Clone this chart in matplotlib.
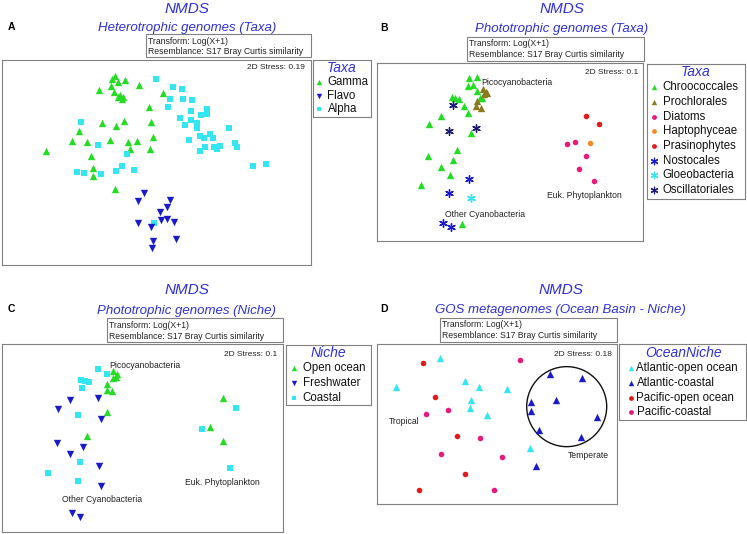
import matplotlib
matplotlib.use("Agg")
import matplotlib.pyplot as plt
from matplotlib.patches import Rectangle, Ellipse

plt.rcParams['font.family'] = ['Liberation Sans', 'DejaVu Sans']

# ---------------- data (NMDS ordination coordinates, arbitrary units) ----------------
# Panel A: heterotrophic genomes
A_gamma_x = [345,337,375,355,332,296,418,343,490,360,370,355,367,447,305,373,347,452,238,215,260,330,383,410,460,449,390,138,272,280,280,345]
A_gamma_y = [228,237,240,245,257,270,256,275,278,285,290,292,296,322,370,362,378,366,392,422,427,421,427,422,411,447,448,452,469,505,528,566]
A_flavo_x = [432,415,510,502,480,415,483,502,521,452,528,460,456]
A_flavo_y = [580,602,600,622,636,668,660,657,666,680,717,722,743]
A_alpha_x = [468,519,547,510,548,575,505,573,621,602,622,541,574,590,556,590,686,600,631,612,640,566,704,712,614,600,643,660,650,244,295,382,365,402,347,231,251,302,760,797,462]
A_alpha_y = [237,260,268,296,296,301,320,333,327,345,343,353,360,368,375,383,383,408,403,415,415,419,430,440,441,452,442,439,448,365,435,463,498,510,514,517,520,522,498,493,670]

# Panel B: phototrophic genomes (taxa)
B_chroo_x = [298,322,295,310,320,245,256,268,283,295,212,178,303,262,175,250,214,241,152,276,330,337]
B_chroo_y = [233,232,258,256,272,291,293,296,318,340,348,373,400,450,468,480,500,525,555,672,295,293]
B_prochl_x = [338,347,342,322,318,334,352]
B_prochl_y = [268,276,283,303,318,323,278]
B_diatom_x = [590,614,649,628,672]
B_diatom_y = [432,427,467,506,543]
B_hapto_x = [660]
B_hapto_y = [430]
B_prasino_x = [648,688]
B_prasino_y = [347,372]
B_nosto_x = [297,237,220,242]
B_nosto_y = [537,578,670,680]
B_gloeo_x = [302]
B_gloeo_y = [593]
B_oscill_x = [248,237,318]
B_oscill_y = [315,393,385]

# Panel C: phototrophic genomes (niche)
C_open_x = [340,352,340,348,322,320,337,320,260,668,630,669]
C_open_y = [318,328,338,335,358,375,378,440,512,400,487,528]
C_fresh_x = [210,295,173,303,170,249,211,298,303,216,240]
C_fresh_y = [405,400,433,462,535,547,568,603,663,745,755]
C_coast_x = [295,322,243,255,267,246,235,239,145,234,709,605,691]
C_coast_y = [313,328,345,347,352,368,450,592,624,647,430,492,608]

# Panel D: GOS metagenomes
D_atl_open_x = [210,285,326,412,78,304,299,352,480]
D_atl_open_y = [278,348,366,371,367,404,430,450,548]
D_atl_coast_x = [541,637,557,483,484,680,507,634,497]
D_atl_coast_y = [326,338,405,411,438,455,496,516,602]
D_pac_open_x = [160,195,262,285,148]
D_pac_open_y = [293,396,514,627,676]
D_pac_coast_x = [450,234,167,331,212,396,372]
D_pac_coast_y = [285,436,448,519,568,577,676]
D_circle_center = (590, 425)
D_circle_diam = 240

stress = {'A': '0.19', 'B': '0.1', 'C': '0.1', 'D': '0.18'}

# ---------------- style ----------------
GREEN = '#22dd22'
BLUE = '#1a1acd'
CYAN = '#33e6f2'
OLIVE = '#8c7a1e'
PINK = '#e8197d'
ORANGE = '#f28c28'
RED = '#e11b1b'
NAVY = '#1c1c78'
TBLUE = '#2f2fdc'
GREY = '#808080'

W, H = 747, 534
fig = plt.figure(figsize=(W/100, H/100), dpi=100)

def add_ax(x0, y0, x1, y1):
    ax = fig.add_axes([x0/W, 1-y1/H, (x1-x0)/W, (y1-y0)/H])
    return ax

def ftext(x, y, s, **kw):
    return fig.text(x/W, 1-y/H, s, **kw)

def frame(ax):
    ax.set_xticks([]); ax.set_yticks([])
    for sp in ax.spines.values():
        sp.set_color(GREY); sp.set_linewidth(0.8)

def panel_header(letter, lx, lby, cx, nby, sby, sub, tbox, stress_xy, stress_txt):
    ftext(lx, lby, letter, fontsize=7.5, fontweight='bold', va='baseline', ha='left')
    ftext(cx, nby, 'NMDS', fontsize=11, style='italic', color=TBLUE, ha='center', va='baseline')
    ftext(cx, sby, sub, fontsize=9.5, style='italic', color=TBLUE, ha='center', va='baseline')
    x0, y0, x1, y1 = tbox
    fig.patches.append(Rectangle((x0/W, 1-y1/H), (x1-x0)/W, (y1-y0)/H, transform=fig.transFigure,
                                 fill=False, edgecolor=GREY, linewidth=0.8))
    ftext(x0+2, y0+9.5, 'Transform: Log(X+1)', fontsize=6.2, va='baseline', ha='left', color='#222222')
    ftext(x0+2, y0+20.5, 'Resemblance: S17 Bray Curtis similarity', fontsize=6.2, va='baseline', ha='left', color='#222222')
    ftext(stress_xy[0], stress_xy[1], '2D Stress: ' + stress_txt, fontsize=6.0, ha='right', va='baseline', color='#222222')

def legend_box(box, title, tcx, tcy, entries, mx, tx, ys):
    x0, y0, x1, y1 = box
    ax = add_ax(x0, y0, x1, y1)
    ax.set_xlim(x0, x1); ax.set_ylim(y1, y0)
    frame(ax)
    ax.text(tcx, tcy, title, fontsize=10, style='italic', color=TBLUE, ha='center', va='center')
    for (label, mk, col, sz), y in zip(entries, ys):
        if mk == 'ast':
            ax.scatter([mx], [y], marker=(6, 2, 0), s=sz, color=col, linewidths=0.9)
        else:
            ax.scatter([mx], [y], marker=mk, s=sz, color=col, linewidths=0)
        ax.text(tx, y, label, fontsize=8.3, ha='left', va='center', color='#111111')

def scat(ax, x, y, mk, col, s):
    if mk == 'ast':
        ax.scatter(x, y, marker=(6, 2, 0), s=s, color=col, linewidths=1.0, zorder=3)
    else:
        ax.scatter(x, y, marker=mk, s=s, color=col, linewidths=0, zorder=3)

TRI = 28; SQ = 17; CIR = 16; AST = 30
LT = 15; LS = 11; LC = 12; LA = 22

# ---------------- Panel A ----------------
panel_header('A', 8, 30, 187, 12.7, 30.7, 'Heterotrophic genomes (Taxa)',
             (146, 34, 311, 57), (305, 69.3), stress['A'])
axA = add_ax(1.7, 60, 310.7, 265)
axA.set_xlim(5, 932); axA.set_ylim(795, 180)
frame(axA)
scat(axA, A_gamma_x, A_gamma_y, '^', GREEN, TRI)
scat(axA, A_alpha_x, A_alpha_y, 's', CYAN, SQ)
scat(axA, A_flavo_x, A_flavo_y, 'v', BLUE, TRI)
legend_box((312.7, 59.5, 370.7, 116.5), 'Taxa', 341.7, 67.5,
           [('Gamma', '^', GREEN, LT), ('Flavo', 'v', BLUE, LT), ('Alpha', 's', CYAN, LS)],
           319.3, 327.5, [82.3, 95.7, 109.3])

# ---------------- Panel B ----------------
panel_header('B', 380, 30.7, 561.7, 13.3, 32.3, 'Phototrophic genomes (Taxa)',
             (467.3, 36.7, 644, 60.7), (638.3, 74), stress['B'])
axB = add_ax(376.7, 63.3, 643.3, 240.7)
axB.set_xlim(20, 820); axB.set_ylim(722, 190)
frame(axB)
scat(axB, B_chroo_x, B_chroo_y, '^', GREEN, TRI)
scat(axB, B_prochl_x, B_prochl_y, '^', OLIVE, TRI)
scat(axB, B_diatom_x, B_diatom_y, 'o', PINK, CIR)
scat(axB, B_hapto_x, B_hapto_y, 'o', ORANGE, CIR)
scat(axB, B_prasino_x, B_prasino_y, 'o', RED, CIR)
scat(axB, B_nosto_x, B_nosto_y, 'ast', BLUE, AST)
scat(axB, B_gloeo_x, B_gloeo_y, 'ast', CYAN, AST)
scat(axB, B_oscill_x, B_oscill_y, 'ast', NAVY, AST)
axB.text(335, 248, 'Picocyanobacteria', fontsize=6.2, ha='left', va='center', color='#222222')
axB.text(530, 585, 'Euk. Phytoplankton', fontsize=6.2, ha='left', va='center', color='#222222')
axB.text(225, 642, 'Other Cyanobacteria', fontsize=6.2, ha='left', va='center', color='#222222')
legend_box((646.7, 64, 745, 198.5), 'Taxa', 696, 72.5,
           [('Chroococcales', '^', GREEN, LT), ('Prochlorales', '^', OLIVE, LT),
            ('Diatoms', 'o', PINK, LC), ('Haptophyceae', 'o', ORANGE, LC),
            ('Prasinophytes', 'o', RED, LC), ('Nostocales', 'ast', BLUE, LA),
            ('Gloeobacteria', 'ast', CYAN, LA), ('Oscillatoriales', 'ast', NAVY, LA)],
           654, 662.7, [87.3, 101.7, 116.7, 131.3, 146, 160.7, 175.3, 190])

# ---------------- Panel C ----------------
panel_header('C', 8, 311.7, 186.7, 294.3, 314, 'Phototrophic genomes (Niche)',
             (106.7, 318.3, 283.3, 341.7), (277.3, 355.7), stress['C'])
axC = add_ax(1.7, 344.3, 283.3, 531.7)
axC.set_xlim(5, 850); axC.set_ylim(800, 238)
frame(axC)
scat(axC, C_open_x, C_open_y, '^', GREEN, TRI)
scat(axC, C_fresh_x, C_fresh_y, 'v', BLUE, TRI)
scat(axC, C_coast_x, C_coast_y, 's', CYAN, SQ)
axC.text(328, 302, 'Picocyanobacteria', fontsize=6.2, ha='left', va='center', color='#222222')
axC.text(555, 653, 'Euk. Phytoplankton', fontsize=6.2, ha='left', va='center', color='#222222')
axC.text(185, 702, 'Other Cyanobacteria', fontsize=6.2, ha='left', va='center', color='#222222')
legend_box((286, 345, 370.5, 405), 'Niche', 328.3, 353,
           [('Open ocean', '^', GREEN, LT), ('Freshwater', 'v', BLUE, LT), ('Coastal', 's', CYAN, LS)],
           294, 302.7, [368.3, 383, 397.7])

# ---------------- Panel D ----------------
panel_header('D', 380.7, 311.7, 560.7, 294.3, 313.3, 'GOS metagenomes (Ocean Basin - Niche)',
             (440, 317.7, 616.7, 341.7), (611.7, 355.7), stress['D'])
axD = add_ax(376.7, 344.3, 616.7, 504)
axD.set_xlim(20, 740); axD.set_ylim(717, 238)
frame(axD)
scat(axD, D_atl_open_x, D_atl_open_y, '^', CYAN, TRI)
scat(axD, D_atl_coast_x, D_atl_coast_y, '^', BLUE, TRI)
scat(axD, D_pac_open_x, D_pac_open_y, 'o', RED, CIR)
scat(axD, D_pac_coast_x, D_pac_coast_y, 'o', PINK, CIR)
axD.add_patch(Ellipse(D_circle_center, D_circle_diam, D_circle_diam, fill=False,
                      edgecolor='#111111', linewidth=1.0))
axD.text(55, 471, 'Tropical', fontsize=6.2, ha='left', va='center', color='#222222')
axD.text(592, 571, 'Temperate', fontsize=6.2, ha='left', va='center', color='#222222')
legend_box((619.3, 344.3, 745.7, 420), 'OceanNiche', 683.3, 353,
           [('Atlantic-open ocean', '^', CYAN, LT), ('Atlantic-coastal', '^', BLUE, LT),
            ('Pacific-open ocean', 'o', RED, LC), ('Pacific-coastal', 'o', PINK, LC)],
           630.7, 636.5, [368.3, 383, 397.7, 412])

fig.savefig('out.png', dpi=100)
